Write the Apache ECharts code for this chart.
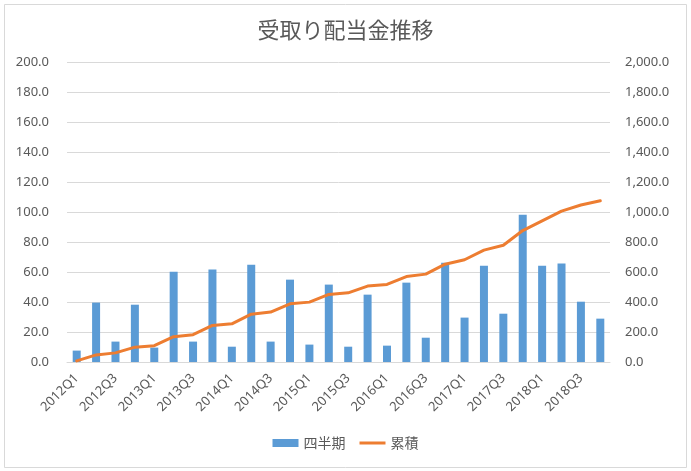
<!DOCTYPE html>
<html>
<head>
<meta charset="utf-8">
<script src="https://cdn.jsdelivr.net/npm/echarts@6/dist/echarts.min.js"></script>
<style>
html,body{margin:0;padding:0;background:#fff;}
#chart{width:691px;height:471px;}
</style>
</head>
<body>
<div id="chart"></div>
<script>
var quarters = ['2012Q1','2012Q2','2012Q3','2012Q4','2013Q1','2013Q2','2013Q3','2013Q4',
	'2014Q1','2014Q2','2014Q3','2014Q4','2015Q1','2015Q2','2015Q3','2015Q4',
	'2016Q1','2016Q2','2016Q3','2016Q4','2017Q1','2017Q2','2017Q3','2017Q4',
	'2018Q1','2018Q2','2018Q3','2018Q4'];
// 四半期ごとの受取額
var quarterly = [7.6, 39.6, 13.6, 38.2, 9.6, 60.2, 13.6, 61.6, 10.2, 64.9, 13.6, 54.9,
	11.6, 51.6, 10.2, 44.9, 10.9, 52.9, 16.2, 66.2, 29.6, 64.2, 32.2, 98.2,
	64.2, 65.6, 40.2, 28.9];
// 累積
var cumulative = [7.6, 47.2, 60.8, 99.0, 108.6, 168.8, 182.4, 244.0, 254.2, 319.1, 332.7, 387.6,
	399.2, 450.8, 461.0, 505.9, 516.8, 569.7, 585.9, 652.1, 681.7, 745.9, 778.1, 876.3,
	940.5, 1006.1, 1046.3, 1075.2];
var leftTicks = {min: 0, max: 200, interval: 20};
var rightTicks = {min: 0, max: 2000, interval: 200};

var textColor = '#595959';
var fontNum = '"Noto Sans", "Noto Sans CJK JP", sans-serif';
var fontJp = '"Noto Sans CJK JP", sans-serif';

function fmt(v) {
	return v.toFixed(1).replace(/\B(?=(\d{3})+(?!\d))/g, ',');
}

var myChart = echarts.init(document.getElementById('chart'));
var option = {
	animation: false,
	backgroundColor: '#fff',
	graphic: [{
		type: 'rect',
		shape: {x: 4.5, y: 4.5, width: 682, height: 463},
		style: {fill: 'none', stroke: '#D9D9D9', lineWidth: 1},
		silent: true
	}],
	title: {
		text: '受取り配当金推移',
		left: 'center',
		top: 14,
		textStyle: {color: textColor, fontSize: 22, fontWeight: 'normal', fontFamily: fontJp}
	},
	legend: {
		bottom: 16,
		left: 'center',
		itemGap: 14,
		itemWidth: 26,
		itemHeight: 8,
		textStyle: {color: textColor, fontSize: 14, fontFamily: fontJp},
		data: [{name: '四半期', icon: 'rect'}, {name: '累積', icon: 'path://M0 0H26V3H0Z'}]
	},
	grid: {left: 67, right: 81, top: 62, bottom: 109},
	xAxis: [{
		type: 'category',
		data: quarters,
		boundaryGap: true,
		axisLine: {lineStyle: {color: '#D9D9D9'}},
		axisTick: {show: false},
		axisLabel: {
			interval: 1,
			rotate: 45,
			margin: 14,
			color: textColor,
			fontSize: 13,
			fontFamily: fontNum
		}
	}],
	yAxis: [{
		type: 'value',
		min: leftTicks.min,
		max: leftTicks.max,
		interval: leftTicks.interval,
		axisLine: {show: false},
		axisTick: {show: false},
		splitLine: {lineStyle: {color: '#D9D9D9'}},
		axisLabel: {
			margin: 18,
			color: textColor,
			fontSize: 13,
			fontFamily: fontNum,
			formatter: function(v) { return v.toFixed(1); }
		}
	}, {
		type: 'value',
		position: 'right',
		min: rightTicks.min,
		max: rightTicks.max,
		interval: rightTicks.interval,
		axisLine: {show: false},
		axisTick: {show: false},
		splitLine: {show: false},
		axisLabel: {
			margin: 15,
			color: textColor,
			fontSize: 13,
			fontFamily: fontNum,
			formatter: fmt
		}
	}],
	series: [{
		name: '四半期',
		type: 'bar',
		yAxisIndex: 0,
		barWidth: 8,
		itemStyle: {color: '#5B9BD5'},
		data: quarterly
	}, {
		name: '累積',
		type: 'line',
		yAxisIndex: 1,
		symbol: 'none',
		showSymbol: false,
		lineStyle: {color: '#ED7D31', width: 3, join: 'round', cap: 'round'},
		itemStyle: {color: '#ED7D31'},
		data: cumulative
	}]
};
myChart.setOption(option);
</script>
</body>
</html>
